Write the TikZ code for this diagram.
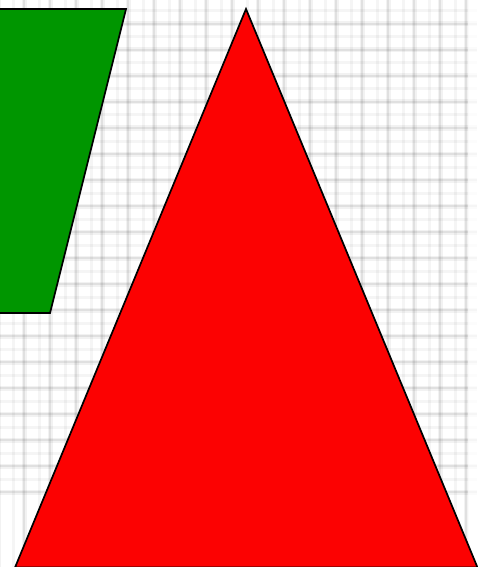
\documentclass[tikz,border=0pt]{standalone}
\begin{document}
\begin{tikzpicture}[x=1pt,y=-1pt,
  gridmaj/.style={draw=black,opacity=0.05,line width=5pt},
  gridcore/.style={draw=black,opacity=0.07,line width=2pt},
  gridmin/.style={draw=black,opacity=0.04,line width=3pt},
  shapeline/.style={draw=black,line width=1.7pt,line join=miter}]
\useasboundingbox (0,0) rectangle (477,567);
\fill[white] (0,0) rectangle (477,567);
\foreach \i in {0,...,18} {
  \draw[gridmin] ({13+26*\i},0) -- ({13+26*\i},567);
  \draw[gridmin] (0,{11+26*\i}) -- (477,{11+26*\i});
}
\foreach \i in {0,...,18} {
  \draw[gridmaj] ({-2+26*\i},0) -- ({-2+26*\i},567);
  \draw[gridcore] ({-2+26*\i},0) -- ({-2+26*\i},567);
  \draw[gridmaj] (0,{24+26*\i}) -- (477,{24+26*\i});
  \draw[gridcore] (0,{24+26*\i}) -- (477,{24+26*\i});
}
\fill[white,opacity=0.7] (468,0) rectangle (477,567);
\path[shapeline,fill={rgb,255:red,0;green,150;blue,0}] (-2,9) -- (126,9) -- (50,313) -- (-2,313) -- cycle;
\path[shapeline,fill={rgb,255:red,252;green,2;blue,2}] (246,9) -- (477.5,567.5) -- (15,567.5) -- cycle;
\end{tikzpicture}
\end{document}
